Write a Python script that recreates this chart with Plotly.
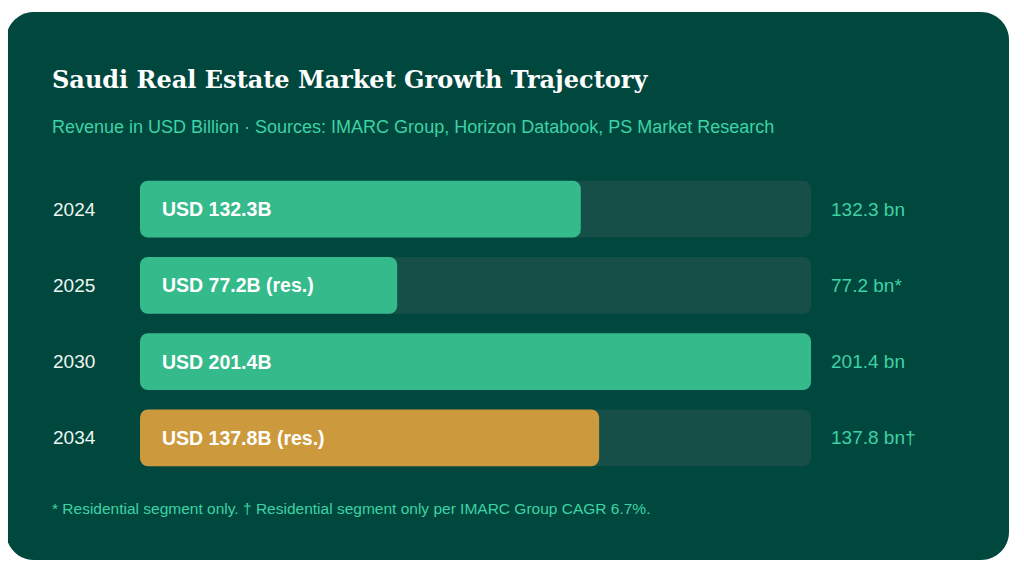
import plotly.graph_objects as go

# ---- data ----
years = ["2024", "2025", "2030", "2034"]
values = [132.3, 77.2, 201.4, 137.8]
bar_suffix = ["", " (res.)", "", " (res.)"]
value_marks = ["", "*", "", "†"]
bar_colors = ["#35BA8B", "#35BA8B", "#35BA8B", "#CC9A3D"]
track_max = max(values)

title = "Saudi Real Estate Market Growth Trajectory"
subtitle = "Revenue in USD Billion · Sources: IMARC Group, Horizon Databook, PS Market Research"
footnote = "* Residential segment only. † Residential segment only per IMARC Group CAGR 6.7%."

# ---- layout geometry ----
# the page body adds an 8px margin, so figure coords = page coords - 8
OFF = 8
WIDTH, HEIGHT = 1024 - 2 * OFF, 572 - 2 * OFF
ML, MR, MT, MB = 140 - OFF, WIDTH - (811 - OFF), 171 - OFF, HEIGHT - (476 - OFF)
PW = WIDTH - ML - MR
PH = HEIGHT - MT - MB

def px(x):  # page pixel -> paper x
    return (x - OFF - ML) / PW

def py(y):  # page pixel -> paper y
    return (HEIGHT - MB - (y - OFF)) / PH

def rounded_rect(x0, y0, x1, y1, r):
    k = 0.5523 * r
    pts = [
        f"M{px(x0 + r)},{py(y0)}",
        f"L{px(x1 - r)},{py(y0)}",
        f"C{px(x1 - r + k)},{py(y0)} {px(x1)},{py(y0 + r - k)} {px(x1)},{py(y0 + r)}",
        f"L{px(x1)},{py(y1 - r)}",
        f"C{px(x1)},{py(y1 - r + k)} {px(x1 - r + k)},{py(y1)} {px(x1 - r)},{py(y1)}",
        f"L{px(x0 + r)},{py(y1)}",
        f"C{px(x0 + r - k)},{py(y1)} {px(x0)},{py(y1 - r + k)} {px(x0)},{py(y1 - r)}",
        f"L{px(x0)},{py(y0 + r)}",
        f"C{px(x0)},{py(y0 + r - k)} {px(x0 + r - k)},{py(y0)} {px(x0 + r)},{py(y0)}",
        "Z",
    ]
    return " ".join(pts)

BG = "#00473E"
TRACK = "#164E48"
TEAL = "#3DD3A4"
SANS = "Liberation Sans, Arial, sans-serif"
BAR_W = 0.745
yidx = list(range(len(years)))

fig = go.Figure()
# track bars
fig.add_trace(go.Bar(
    y=yidx, x=[track_max] * len(years), base=[0] * len(years), orientation="h",
    marker=dict(color=TRACK, line=dict(width=0)),
    width=BAR_W, hoverinfo="skip", showlegend=False,
))
# value bars
fig.add_trace(go.Bar(
    y=yidx, x=values, base=[0] * len(values), orientation="h",
    marker=dict(color=bar_colors, line=dict(width=0)),
    width=BAR_W, hoverinfo="skip", showlegend=False,
))

annotations = []
for i, (yr, v, suf, mark) in enumerate(zip(years, values, bar_suffix, value_marks)):
    annotations.append(dict(
        x=px(51), xref="paper", y=i, yref="y", text=yr, showarrow=False,
        xanchor="left", yanchor="middle",
        font=dict(family=SANS, size=19, color="#EEF7F2"),
    ))
    annotations.append(dict(
        x=0, xref="x", y=i, yref="y", text=f"<b>USD {v}B{suf}</b>",
        showarrow=False, xanchor="left", yanchor="middle", xshift=20,
        font=dict(family=SANS, size=19.5, color="#FFFFFF"),
    ))
    annotations.append(dict(
        x=1, xref="paper", y=i, yref="y", text=f"{v} bn{mark}",
        showarrow=False, xanchor="left", yanchor="middle", xshift=18,
        font=dict(family=SANS, size=19, color=TEAL),
    ))

annotations.append(dict(
    x=px(50), xref="paper", y=py(80), yref="paper", text=f"<b>{title}</b>",
    showarrow=False, xanchor="left", yanchor="middle",
    font=dict(family="Georgia, DejaVu Serif, serif", size=24, color="#FFFFFF"),
))
annotations.append(dict(
    x=px(50), xref="paper", y=py(127), yref="paper", text=subtitle,
    showarrow=False, xanchor="left", yanchor="middle",
    font=dict(family=SANS, size=18, color=TEAL),
))
annotations.append(dict(
    x=px(50), xref="paper", y=py(508), yref="paper", text=footnote,
    showarrow=False, xanchor="left", yanchor="middle",
    font=dict(family=SANS, size=15.5, color=TEAL),
))

fig.update_layout(
    width=WIDTH, height=HEIGHT,
    margin=dict(l=ML, r=MR, t=MT, b=MB, pad=0),
    paper_bgcolor="#FFFFFF", plot_bgcolor="rgba(0,0,0,0)",
    barmode="overlay", barcornerradius=8,
    showlegend=False,
    xaxis=dict(range=[0, track_max], visible=False, fixedrange=True),
    yaxis=dict(type="linear", range=[len(years) - 0.5, -0.5],
               visible=False, fixedrange=True),
    shapes=[dict(
        type="path", xref="paper", yref="paper", layer="below",
        path=rounded_rect(6, 12, 1009, 560, 28),
        fillcolor=BG, line=dict(width=0),
    )],
    annotations=annotations,
)

fig.write_html("out.html", config={"displayModeBar": False})
